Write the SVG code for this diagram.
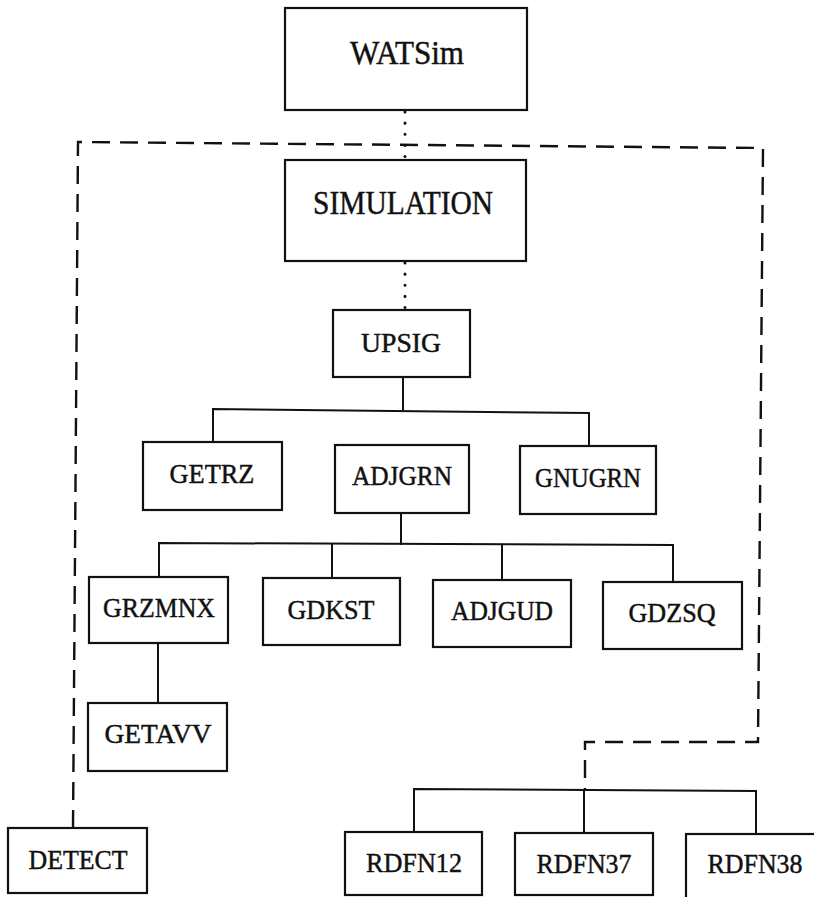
<svg xmlns="http://www.w3.org/2000/svg" width="814" height="897" viewBox="0 0 814 897">
<style>
.box{fill:#fff;stroke:#111;stroke-width:2.2}
.lbl{font-family:"Liberation Serif","Times New Roman",serif;font-size:27.5px;fill:#111;stroke:#111;stroke-width:0.45;text-anchor:middle}
.big{font-size:33px}
.solid{fill:none;stroke:#111;stroke-width:2}
.dash{fill:none;stroke:#111;stroke-width:2.4;stroke-dasharray:18 10}
.dot{fill:none;stroke:#111;stroke-width:3;stroke-linecap:round;stroke-dasharray:0.1 11}
</style>
<rect width="814" height="897" fill="#fff"/>
<g id="connectors">
<path class="dash" d="M73,828 L78,142 L763,148 L758,742 L585,742 L585,791"/>
<path class="dot" d="M405,112 L405,160"/>
<path class="dot" d="M405,263 L405,308"/>
<path class="solid" d="M403,377 L403,410"/>
<path class="solid" d="M213,442 L213,409 L589,413 L589,446"/>
<path class="solid" d="M401,513 L401,545"/>
<path class="solid" d="M159,577 L159,543 L673,545 L673,582"/>
<path class="solid" d="M332,543 L332,578"/>
<path class="solid" d="M502,544 L502,579"/>
<path class="solid" d="M158,643 L158,703"/>
<path class="solid" d="M414,832 L414,789 L756,791 L756,834"/>
<path class="solid" d="M584,791 L584,833"/>
</g>
<g id="WATSim"><rect class="box" x="285" y="8" width="242" height="102"/><text class="lbl big" x="407" y="64" textLength="114" lengthAdjust="spacingAndGlyphs">WATSim</text></g>
<g id="SIMULATION"><rect class="box" x="285" y="160" width="241" height="101"/><text class="lbl big" x="403" y="214" textLength="180" lengthAdjust="spacingAndGlyphs">SIMULATION</text></g>
<g id="UPSIG"><rect class="box" x="333" y="310" width="137" height="67"/><text class="lbl" x="401" y="352" textLength="80" lengthAdjust="spacingAndGlyphs">UPSIG</text></g>
<g id="GETRZ"><rect class="box" x="143" y="442" width="139" height="68"/><text class="lbl" x="212" y="483" textLength="85" lengthAdjust="spacingAndGlyphs">GETRZ</text></g>
<g id="ADJGRN"><rect class="box" x="335" y="445" width="134" height="68"/><text class="lbl" x="402" y="485" textLength="100" lengthAdjust="spacingAndGlyphs">ADJGRN</text></g>
<g id="GNUGRN"><rect class="box" x="520" y="446" width="136" height="68"/><text class="lbl" x="588" y="487" textLength="106" lengthAdjust="spacingAndGlyphs">GNUGRN</text></g>
<g id="GRZMNX"><rect class="box" x="89" y="577" width="139" height="66"/><text class="lbl" x="159" y="617" textLength="112" lengthAdjust="spacingAndGlyphs">GRZMNX</text></g>
<g id="GDKST"><rect class="box" x="263" y="578" width="137" height="67"/><text class="lbl" x="331" y="619" textLength="87" lengthAdjust="spacingAndGlyphs">GDKST</text></g>
<g id="ADJGUD"><rect class="box" x="433" y="580" width="138" height="67"/><text class="lbl" x="502" y="620" textLength="102" lengthAdjust="spacingAndGlyphs">ADJGUD</text></g>
<g id="GDZSQ"><rect class="box" x="603" y="582" width="139" height="67"/><text class="lbl" x="672" y="622" textLength="87" lengthAdjust="spacingAndGlyphs">GDZSQ</text></g>
<g id="GETAVV"><rect class="box" x="88" y="703" width="139" height="68"/><text class="lbl" x="158" y="743" textLength="107" lengthAdjust="spacingAndGlyphs">GETAVV</text></g>
<g id="DETECT"><rect class="box" x="8" y="828" width="139" height="65"/><text class="lbl" x="78" y="869" textLength="99" lengthAdjust="spacingAndGlyphs">DETECT</text></g>
<g id="RDFN12"><rect class="box" x="345" y="832" width="137" height="63"/><text class="lbl" x="414" y="872" textLength="96" lengthAdjust="spacingAndGlyphs">RDFN12</text></g>
<g id="RDFN37"><rect class="box" x="515" y="833" width="138" height="62"/><text class="lbl" x="584" y="873" textLength="95" lengthAdjust="spacingAndGlyphs">RDFN37</text></g>
<g id="RDFN38"><rect class="box" x="686" y="834" width="150" height="80"/><text class="lbl" x="755" y="873" textLength="95" lengthAdjust="spacingAndGlyphs">RDFN38</text></g>
</svg>
